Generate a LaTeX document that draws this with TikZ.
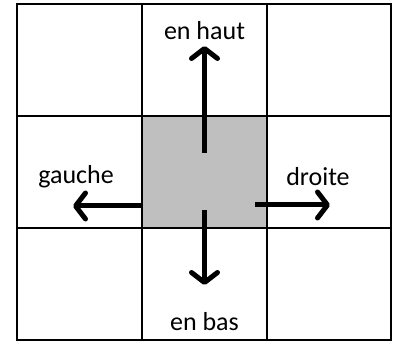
\documentclass[tikz,border=0pt]{standalone}
\usepackage{fontspec}
\setmainfont{Carlito}
\usetikzlibrary{arrows.meta}
\definecolor{grisclair}{HTML}{BFBFBF}
\begin{document}
\begin{tikzpicture}[x=1pt,y=1pt,
    fleche/.style={line width=5pt,-{Straight Barb[length=10pt,width=26pt,line cap=round,line join=round]}},
    etiquette/.style={font=\fontsize{26}{30}\selectfont,inner sep=0pt}]
    \useasboundingbox (0,0) rectangle (398,344);
    \fill[grisclair] (142,116) rectangle (267,228);
    \draw[line width=2pt] (17,4) rectangle (391,340);
    \draw[line width=2pt] (142,4)--(142,340);
    \draw[line width=2pt] (267,4)--(267,340);
    \draw[line width=2pt] (17,116)--(391,116);
    \draw[line width=2pt] (17,228)--(391,228);
    \node (centre) at (204.5,172) {};
    \node [etiquette] (haut) at (204.5,313) {en haut};
    \node [etiquette] (bas) at (204.5,22) {en bas};
    \node [etiquette] (gauche) at (76,167) {gauche};
    \node [etiquette] (droite) at (318,167) {droite};
    \coordinate (hautA) at (204.5,191);
    \coordinate (hautB) at (204.5,298);
    \coordinate (basA) at (204.5,134);
    \coordinate (basB) at (204.5,59);
    \coordinate (gaucheA) at (142,138);
    \coordinate (gaucheB) at (73,138);
    \coordinate (droiteA) at (255,139);
    \coordinate (droiteB) at (330,139);
    \draw [fleche] (hautA)--(hautB);
    \draw [fleche] (basA)--(basB);
    \draw [fleche] (gaucheA)--(gaucheB);
    \draw [fleche] (droiteA)--(droiteB);
\end{tikzpicture}
\end{document}
